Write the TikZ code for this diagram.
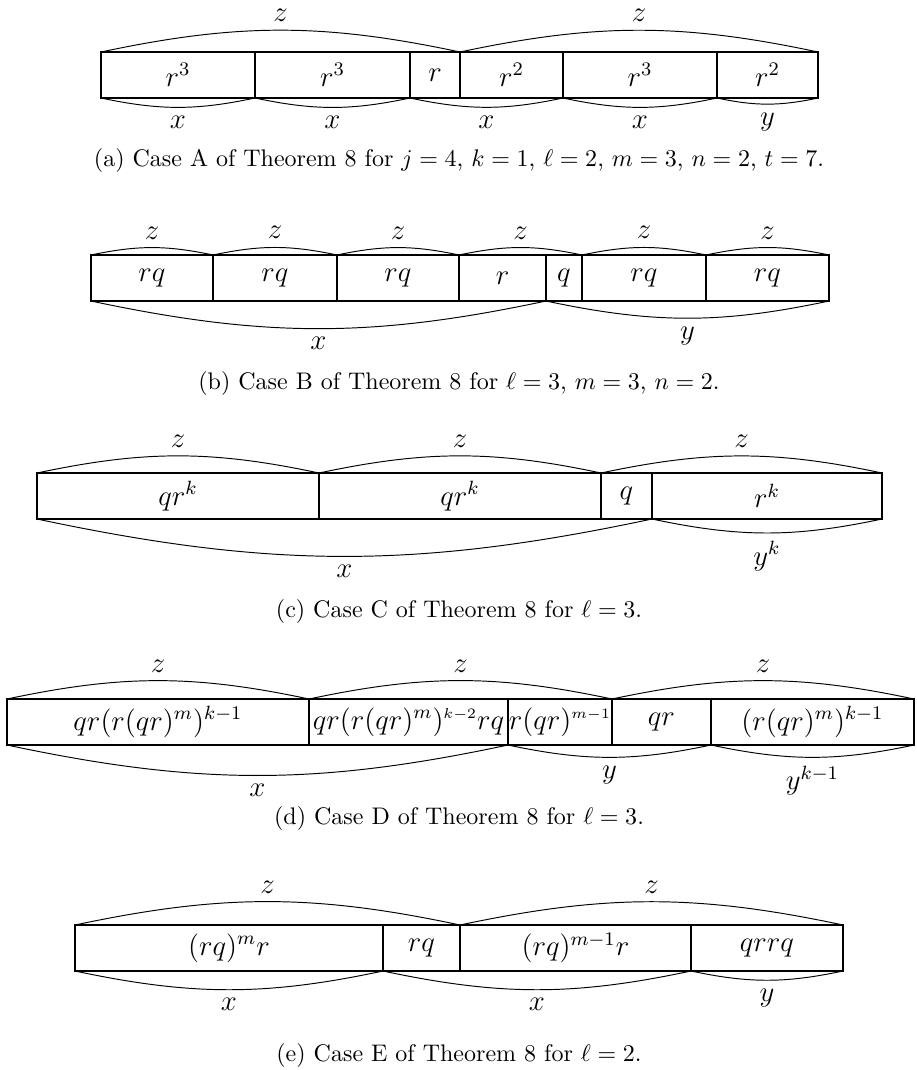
\documentclass[tikz,border=0pt]{standalone}
\newdimen\pxunit
\pxunit=0.4167pt
\tikzset{
  cell/.style={draw, thick, anchor=north west, outer sep=0pt, inner sep=0pt,
    minimum height=46*\pxunit, font=\large},
  arcup/.style={bend left=12},
  arcdn/.style={bend right=12},
  lab/.style={font=\large},
  caption/.style={font=\normalsize}
}
\begin{document}
\begin{tikzpicture}[x=0.4167pt, y=-0.4167pt]
\useasboundingbox (0,0) rectangle (917,1070);

% (a)
\node[cell, minimum width=154*\pxunit] (a1) at (101,52) {$r^3$};
\node[cell, minimum width=155*\pxunit] (a2) at (255,52) {$r^3$};
\node[cell, minimum width=50*\pxunit]  (a3) at (410,52) {$r$};
\node[cell, minimum width=103*\pxunit] (a4) at (460,52) {$r^2$};
\node[cell, minimum width=154*\pxunit] (a5) at (563,52) {$r^3$};
\node[cell, minimum width=101*\pxunit] (a6) at (717,52) {$r^2$};
\draw (a1.north west) to[arcup] node[lab, above] {$z$} (a3.north east);
\draw (a4.north west) to[arcup] node[lab, above] {$z$} (a6.north east);
\draw (a1.south west) to[arcdn] node[lab, below] {$x$} (a1.south east);
\draw (a2.south west) to[arcdn] node[lab, below] {$x$} (a2.south east);
\draw (a3.south west) to[arcdn] node[lab, below] {$x$} (a4.south east);
\draw (a5.south west) to[arcdn] node[lab, below] {$x$} (a5.south east);
\draw (a6.south west) to[arcdn] node[lab, below] {$y$} (a6.south east);
\node[caption] (capa) at (459,160) {(a) Case A of Theorem 8 for $j=4$, $k=1$, $\ell=2$, $m=3$, $n=2$, $t=7$.};

% (b)
\node[cell, minimum width=122*\pxunit] (b1) at (91,255) {$rq$};
\node[cell, minimum width=124*\pxunit] (b2) at (213,255) {$rq$};
\node[cell, minimum width=122*\pxunit] (b3) at (337,255) {$rq$};
\node[cell, minimum width=87*\pxunit]  (b4) at (459,255) {$r$};
\node[cell, minimum width=36*\pxunit]  (b5) at (546,255) {$q$};
\node[cell, minimum width=124*\pxunit] (b6) at (582,255) {$rq$};
\node[cell, minimum width=123*\pxunit] (b7) at (706,255) {$rq$};
\draw (b1.north west) to[arcup] node[lab, above] {$z$} (b1.north east);
\draw (b2.north west) to[arcup] node[lab, above] {$z$} (b2.north east);
\draw (b3.north west) to[arcup] node[lab, above] {$z$} (b3.north east);
\draw (b4.north west) to[arcup] node[lab, above] {$z$} (b5.north east);
\draw (b6.north west) to[arcup] node[lab, above] {$z$} (b6.north east);
\draw (b7.north west) to[arcup] node[lab, above] {$z$} (b7.north east);
\draw (b1.south west) to[arcdn] node[lab, below] {$x$} (b4.south east);
\draw (b5.south west) to[arcdn] node[lab, below] {$y$} (b7.south east);
\node[caption] (capb) at (459,383) {(b) Case B of Theorem 8 for $\ell=3$, $m=3$, $n=2$.};

% (c)
\node[cell, minimum width=282*\pxunit] (c1) at (37,473) {$qr^k$};
\node[cell, minimum width=282*\pxunit] (c2) at (319,473) {$qr^k$};
\node[cell, minimum width=51*\pxunit]  (c3) at (601,473) {$q$};
\node[cell, minimum width=230*\pxunit] (c4) at (652,473) {$r^k$};
\draw (c1.north west) to[arcup] node[lab, above] {$z$} (c1.north east);
\draw (c2.north west) to[arcup] node[lab, above] {$z$} (c2.north east);
\draw (c3.north west) to[arcup] node[lab, above] {$z$} (c4.north east);
\draw (c1.south west) to[arcdn] node[lab, below] {$x$} (c3.south east);
\draw (c4.south west) to[arcdn] node[lab, below] {$y^k$} (c4.south east);
\node[caption] (capc) at (459,611) {(c) Case C of Theorem 8 for $\ell=3$.};

% (d)
\node[cell, minimum width=302*\pxunit] (d1) at (7,699) {$qr(r(qr)^m)^{k-1}$};
\node[cell, minimum width=199*\pxunit] (d2) at (309,699) {$qr(r(qr)^m)^{\scriptscriptstyle k-2}rq$};
\node[cell, minimum width=104*\pxunit] (d3) at (508,699) {$r(qr)^{\scriptscriptstyle m-1}$};
\node[cell, minimum width=99*\pxunit]  (d4) at (612,699) {$qr$};
\node[cell, minimum width=203*\pxunit] (d5) at (711,699) {$(r(qr)^m)^{k-1}$};
\draw (d1.north west) to[arcup] node[lab, above] {$z$} (d1.north east);
\draw (d2.north west) to[arcup] node[lab, above] {$z$} (d3.north east);
\draw (d4.north west) to[arcup] node[lab, above] {$z$} (d5.north east);
\draw (d1.south west) to[arcdn] node[lab, below] {$x$} (d2.south east);
\draw (d3.south west) to[arcdn] node[lab, below] {$y$} (d4.south east);
\draw (d5.south west) to[arcdn] node[lab, below] {$y^{k-1}$} (d5.south east);
\node[caption] (capd) at (459,818) {(d) Case D of Theorem 8 for $\ell=3$.};

% (e)
\node[cell, minimum width=308*\pxunit] (e1) at (75,925) {$(rq)^m r$};
\node[cell, minimum width=77*\pxunit]  (e2) at (383,925) {$rq$};
\node[cell, minimum width=231*\pxunit] (e3) at (460,925) {$(rq)^{m-1}r$};
\node[cell, minimum width=152*\pxunit] (e4) at (691,925) {$qrrq$};
\draw (e1.north west) to[arcup] node[lab, above] {$z$} (e2.north east);
\draw (e3.north west) to[arcup] node[lab, above] {$z$} (e4.north east);
\draw (e1.south west) to[arcdn] node[lab, below] {$x$} (e1.south east);
\draw (e2.south west) to[arcdn] node[lab, below] {$x$} (e3.south east);
\draw (e4.south west) to[arcdn] node[lab, below] {$y$} (e4.south east);
\node[caption] (cape) at (459,1055) {(e) Case E of Theorem 8 for $\ell=2$.};
\end{tikzpicture}
\end{document}
